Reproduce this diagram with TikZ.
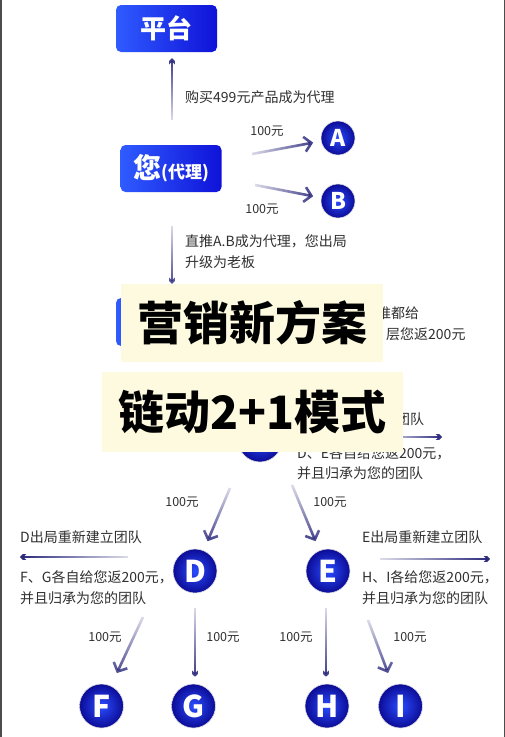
\documentclass[tikz,border=0pt]{standalone}
\usepackage{fontspec}
\setmainfont{Noto Sans CJK SC}
\usetikzlibrary{arrows.meta,fadings}
\definecolor{boxhi}{HTML}{2F5BFF}
\definecolor{boxlo}{HTML}{0F12D8}
\definecolor{ballhi}{HTML}{2A4CFF}
\definecolor{balllo}{HTML}{0C0C96}
\definecolor{arrc}{HTML}{28267A}
\definecolor{txtc}{HTML}{303030}
\definecolor{coverc}{HTML}{FDFADF}
\tikzfading[name=headE, left color=transparent!85, right color=transparent!0]
\tikzfading[name=headW, right color=transparent!85, left color=transparent!0]
\tikzfading[name=headN, bottom color=transparent!85, top color=transparent!0]
\tikzfading[name=headS, top color=transparent!85, bottom color=transparent!0]
\tikzset{
  box/.style={rounded corners=5pt, minimum width=101pt, minimum height=47pt,
    left color=boxhi, right color=boxlo, text=white, inner sep=0pt,
    font=\bfseries\fontsize{26}{26}\selectfont},
  ball/.style={circle, inner color=ballhi, outer color=balllo, draw=black!12,
    line width=0.6pt, minimum size=44pt, inner sep=0pt, text=white,
    font=\bfseries\fontsize{30}{30}\selectfont},
  smallball/.style={ball, minimum size=34pt, font=\bfseries\fontsize{23}{23}\selectfont},
  arr/.style={draw=arrc, line width=2.6pt, -{Straight Barb[length=7pt,width=15pt]}},
  txt/.style={anchor=west, text=txtc, inner sep=0pt, font=\fontsize{14}{20}\selectfont},
  lbl/.style={text=txtc, inner sep=0pt, font=\fontsize{12.5}{13}\selectfont},
  cover/.style={fill=coverc, inner sep=0pt, text=black,
    font=\bfseries\fontsize{46}{46}\selectfont}
}
\begin{document}
\begin{tikzpicture}[x=1pt, y=-1pt]
  \fill[white] (0,0) rectangle (505,737);
  \useasboundingbox (0,0) rectangle (505,737);
  \draw[black!70, line width=1.5pt] (0.75,0) -- (0.75,737);
  \draw[black!70, line width=1.5pt] (504.25,0) -- (504.25,737);

  % vertices
  \node[box] (plat) at (166.5,28.5) {平台};
  \node[box] (you) at (171,168.5) {\fontsize{28}{28}\selectfont 您{\fontsize{17}{17}\selectfont(代理)}};
  \node[box, minimum width=104pt, minimum height=48pt] (boss) at (168,322) {};
  \node[smallball] (A) at (338,138) {A};
  \node[smallball] (B) at (338,201) {B};
  \node[ball] (C) at (260,440) {};
  \node[ball] (D) at (195,571) {D};
  \node[ball] (E) at (328,571) {E};
  \node[ball] (F) at (101.5,706) {F};
  \node[ball] (G) at (193.5,706) {G};
  \node[ball] (H) at (327,706) {H};
  \node[ball] (I) at (400.5,706) {I};

  % tails
  \coordinate (tup) at (172,120);
  \coordinate (tdn) at (172,226);
  \coordinate (ta) at (252,154);
  \coordinate (tb) at (255,185);
  \coordinate (tcr) at (385,437);
  \coordinate (hcr) at (442,437);
  \coordinate (tcd) at (230,488);
  \coordinate (tce) at (292,485);
  \coordinate (tdl) at (128,557);
  \coordinate (hdl) at (20,557);
  \coordinate (tel) at (380,559);
  \coordinate (hel) at (490,559);
  \coordinate (tdf) at (143,617);
  \coordinate (tdg) at (195,608);
  \coordinate (teh) at (326,608);
  \coordinate (tei) at (368,620);

  % edges
  \draw[arr, path fading=headN, shorten >=6pt] (tup) -- (tup |- plat.south);
  \draw[arr, path fading=headS, shorten >=14pt] (tdn) -- (tdn |- boss.north);
  \draw[arr, path fading=headE, shorten >=8pt] (ta) -- (A);
  \draw[arr, path fading=headE, shorten >=8pt] (tb) -- (B);
  \draw[arr, path fading=headE] (tcr) -- (hcr);
  \draw[arr, path fading=headS, shorten >=10pt] (tcd) -- (D);
  \draw[arr, path fading=headS, shorten >=10pt] (tce) -- (E);
  \draw[arr, path fading=headW] (tdl) -- (hdl);
  \draw[arr, path fading=headE] (tel) -- (hel);
  \draw[arr, path fading=headS, shorten >=14pt] (tdf) -- (F);
  \draw[arr, path fading=headS, shorten >=7pt] (tdg) -- (tdg |- G.north);
  \draw[arr, path fading=headS, shorten >=7pt] (teh) -- (teh |- H.north);
  \draw[arr, path fading=headS, shorten >=13pt] (tei) -- (I);

  % labels
  \node[txt] (buy) at (185,97) {购买499元产品成为代理};
  \node[lbl] (la) at (267,131) {100元};
  \node[lbl] (lb) at (262,209) {100元};
  \node[txt] (push1) at (185,241) {直推A.B成为代理，您出局};
  \node[txt] (push2) at (185,262) {升级为老板};
  \node[txt] (give1) at (377,313) {推都给};
  \node[txt] (give2) at (386,334) {层您返200元};
  \node[txt] (team) at (396,419) {团队};
  \node[txt] (de1) at (297,453) {D、E各自给您返200元，};
  \node[txt] (de2) at (297,473) {并且归承为您的团队};
  \node[lbl] (lcd) at (182,502) {100元};
  \node[lbl] (lce) at (330,502) {100元};
  \node[txt] (dout) at (20,537) {D出局重新建立团队};
  \node[txt] (fg1) at (20,577) {F、G各自给您返200元，};
  \node[txt] (fg2) at (20,598) {并且归承为您的团队};
  \node[txt] (eout) at (362,537) {E出局重新建立团队};
  \node[txt] (hi1) at (362,577) {H、I各给您返200元，};
  \node[txt] (hi2) at (362,598) {并且归承为您的团队};
  \node[lbl] (ldf) at (105,637) {100元};
  \node[lbl] (ldg) at (223,637) {100元};
  \node[lbl] (leh) at (296,637) {100元};
  \node[lbl] (lei) at (410,637) {100元};

  % overlays
  \node[cover, minimum width=262pt, minimum height=78pt] (title1) at (252,323) {营销新方案};
  \node[cover, minimum width=301pt, minimum height=80pt] (title2) at (252.5,412) {链动2+1模式};
\end{tikzpicture}
\end{document}
